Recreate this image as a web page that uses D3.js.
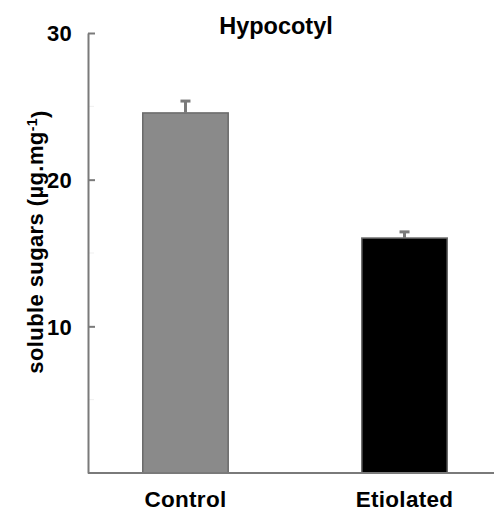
<!DOCTYPE html>
<html>
<head>
<meta charset="utf-8">
<script src="https://cdn.jsdelivr.net/npm/d3@7"></script>
<style>
    body { margin: 0; background: #fff; }
    svg { display: block; font-family: "Liberation Sans", Arial, sans-serif; font-weight: bold; }
</style>
</head>
<body>
<svg width="494" height="511"></svg>
<script>
var categories = ["Control", "Etiolated"];
var means = [24.55, 16.02];
var errors = [0.81, 0.42];
var yTicks = [10, 20, 30];
var yMinorTicks = [5, 15, 25];

var barFill = ["#8a8a8a", "#000000"];
var axisColor = "#7a7a7a";

var data = categories.map((c, i) => ({ name: c, mean: means[i], err: errors[i], fill: barFill[i] }));

var svg = d3.select("svg");

var x = d3.scaleBand().domain(categories).range([88, 502]).paddingInner(0.61).paddingOuter(0.25);
var y = d3.scaleLinear().domain([0, 30]).range([473, 33]);

// bars
svg.append("g")
    .selectAll("rect")
    .data(data)
    .enter()
    .append("rect")
    .attr("x", d => x(d.name))
    .attr("y", d => y(d.mean))
    .attr("width", x.bandwidth())
    .attr("height", d => y(0) - y(d.mean))
    .attr("fill", d => d.fill)
    .attr("stroke", "#6a6a6a")
    .attr("stroke-width", 1.5);

// error bars
var err = svg.append("g")
    .attr("stroke", axisColor)
    .selectAll("g")
    .data(data)
    .enter()
    .append("g");

err.append("line")
    .attr("x1", d => x(d.name) + x.bandwidth() / 2)
    .attr("x2", d => x(d.name) + x.bandwidth() / 2)
    .attr("y1", d => y(d.mean))
    .attr("y2", d => y(d.mean + d.err))
    .attr("stroke-width", 3);

err.append("line")
    .attr("x1", d => x(d.name) + x.bandwidth() / 2 - 5)
    .attr("x2", d => x(d.name) + x.bandwidth() / 2 + 5)
    .attr("y1", d => y(d.mean + d.err))
    .attr("y2", d => y(d.mean + d.err))
    .attr("stroke-width", 3);

// faint minor ticks
svg.append("g")
    .selectAll("line")
    .data(yMinorTicks)
    .enter()
    .append("line")
    .attr("x1", 89).attr("x2", 94)
    .attr("y1", d => y(d)).attr("y2", d => y(d))
    .attr("stroke", "#efefef");

// y axis
var yAxis = svg.append("g")
    .attr("transform", "translate(88,0)")
    .call(d3.axisLeft(y).tickValues(yTicks).tickSizeInner(-7).tickSizeOuter(0).tickPadding(16));
yAxis.select(".domain").attr("stroke", axisColor).attr("stroke-width", 2);
yAxis.selectAll(".tick line").attr("stroke", axisColor).attr("stroke-width", 2);
yAxis.selectAll(".tick text")
    .attr("fill", "#000")
    .attr("dy", "0.36em")
    .style("font-size", "22px")
    .style("letter-spacing", "0.3px")
    .style("font-family", "Liberation Sans, Arial, sans-serif")
    .style("font-weight", "bold");

// x axis
var xAxis = svg.append("g")
    .attr("transform", "translate(0,473)")
    .call(d3.axisBottom(x).tickSize(0).tickPadding(18));
xAxis.select(".domain").attr("d", "M88,0H494").attr("stroke", axisColor).attr("stroke-width", 2);
xAxis.selectAll(".tick text")
    .attr("fill", "#000")
    .style("font-size", "22.5px")
    .style("letter-spacing", "0.3px")
    .style("font-family", "Liberation Sans, Arial, sans-serif")
    .style("font-weight", "bold");

// title
svg.append("text")
    .attr("x", 276)
    .attr("y", 34)
    .attr("text-anchor", "middle")
    .style("font-size", "23.5px")
    .text("Hypocotyl");

// y label
var yLabel = svg.append("text")
    .attr("transform", "translate(43,242) rotate(-90)")
    .attr("text-anchor", "middle")
    .style("font-size", "22px")
    .style("letter-spacing", "0.4px");
yLabel.append("tspan").text("soluble sugars (µg.mg");
yLabel.append("tspan").attr("dy", "-0.45em").style("font-size", "14px").text("-1");
yLabel.append("tspan").attr("dy", "0.45em").text(")");
</script>
</body>
</html>
